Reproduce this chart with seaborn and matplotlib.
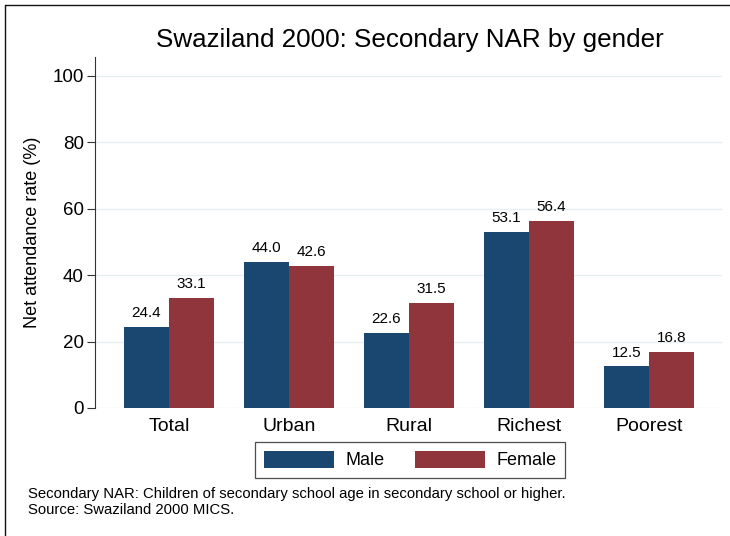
import matplotlib
matplotlib.use("Agg")
import matplotlib.pyplot as plt
from matplotlib.lines import Line2D
import seaborn as sns
import pandas as pd

categories = ["Total", "Urban", "Rural", "Richest", "Poorest"]
male = [24.4, 44.0, 22.6, 53.1, 12.5]
female = [33.1, 42.6, 31.5, 56.4, 16.8]
series_names = ["Male", "Female"]
yticks = [0, 20, 40, 60, 80, 100]
title = "Swaziland 2000: Secondary NAR by gender"
ylabel = "Net attendance rate (%)"
notes = ["Secondary NAR: Children of secondary school age in secondary school or higher.",
         "Source: Swaziland 2000 MICS."]

df = pd.DataFrame({
    "category": categories * 2,
    "value": male + female,
    "sex": [series_names[0]] * len(categories) + [series_names[1]] * len(categories),
})

sns.set_theme(style="white")
plt.rcParams["font.family"] = ["Liberation Sans", "DejaVu Sans"]
plt.rcParams["text.color"] = "#000000"
plt.rcParams["axes.labelcolor"] = "#000000"
plt.rcParams["xtick.color"] = "#000000"
plt.rcParams["ytick.color"] = "#000000"

fig = plt.figure(figsize=(7.3, 5.36), dpi=100)
ax = fig.add_axes([95 / 730, 1 - 408 / 536, (722 - 95) / 730, (408 - 57) / 536])

palette = {"Male": "#1a476f", "Female": "#90353b"}
sns.barplot(data=df, x="category", y="value", hue="sex", order=categories,
            hue_order=series_names, palette=palette, width=0.75, ax=ax,
            saturation=1, linewidth=0)

for cont in ax.containers:
    ax.bar_label(cont, fmt="%.1f", padding=5, fontsize=11, color="#000000")

ax.set_ylim(0, 105.6)
ax.set_xlim(-0.617, 4.608)
ax.set_yticks(yticks)
ax.set_yticklabels([str(v) for v in yticks], fontsize=13.5)
ax.tick_params(axis="y", length=6, width=0.8, color="#333333", pad=2, left=True)
ax.tick_params(axis="x", length=0, labelsize=14, pad=7)
ax.yaxis.grid(True, color="#e8eff0", linewidth=1.0)
ax.set_axisbelow(True)
for s in ["top", "right", "bottom"]:
    ax.spines[s].set_visible(False)
ax.spines["left"].set_color("#333333")
ax.spines["left"].set_linewidth(0.8)
ax.set_xlabel("")
ax.set_ylabel(ylabel, fontsize=13, labelpad=8)

ax.legend_.remove()
handles, labels = ax.get_legend_handles_labels()
leg = fig.legend(handles, labels, loc="center", bbox_to_anchor=(410 / 730, 1 - 460 / 536),
                 ncol=2, fontsize=13, frameon=True, fancybox=False, edgecolor="#222222",
                 handlelength=3.9, handleheight=1.1, handletextpad=0.6, columnspacing=1.7,
                 borderpad=0.5)
leg.get_frame().set_linewidth(0.9)

fig.text(410 / 730, 1 - 40 / 536, title, ha="center", va="center", fontsize=18.7)
fig.text(28 / 730, 1 - 494 / 536, notes[0], ha="left", va="center", fontsize=10.7)
fig.text(28 / 730, 1 - 510 / 536, notes[1], ha="left", va="center", fontsize=10.7)

fig.add_artist(Line2D([5 / 730, 5 / 730], [0, 1 - 5 / 536], transform=fig.transFigure, color="#111111", lw=1))
fig.add_artist(Line2D([5 / 730, 1], [1 - 5 / 536, 1 - 5 / 536], transform=fig.transFigure, color="#111111", lw=1))

fig.savefig("out.png", dpi=100)
